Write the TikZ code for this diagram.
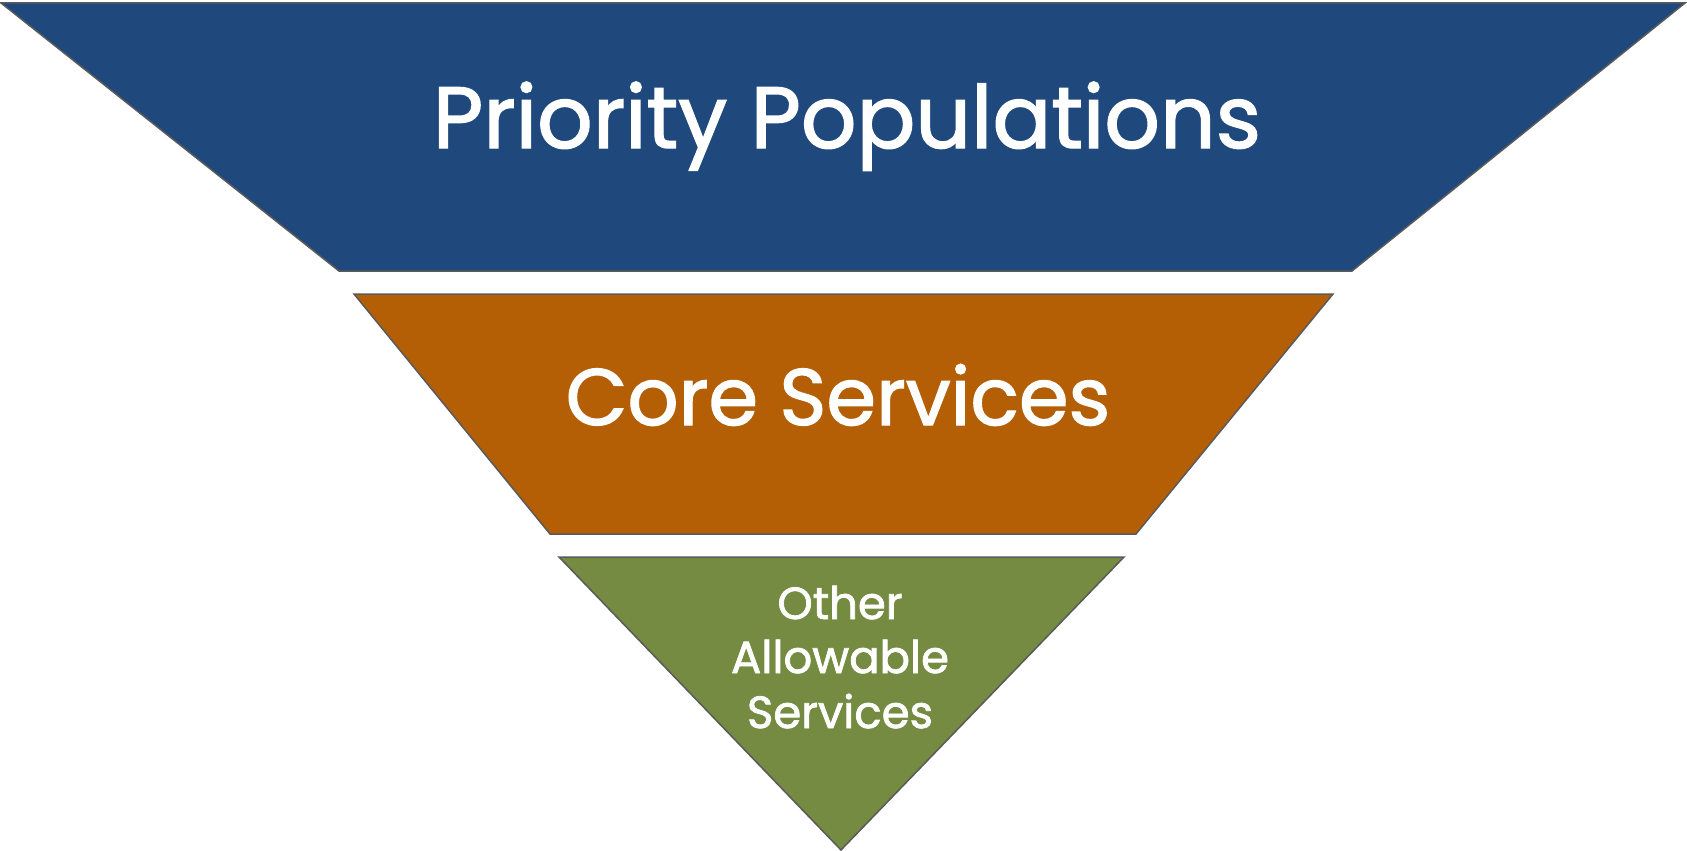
\documentclass[tikz,border=0pt]{standalone}
\usepackage{fontspec}
\setmainfont{Poppins}[FakeBold=1.6]
\definecolor{topblue}{HTML}{1F497D}
\definecolor{midorange}{HTML}{B45E06}
\definecolor{lowgreen}{HTML}{748B41}
\definecolor{edgegray}{HTML}{5A5A5A}
\begin{document}
\begin{tikzpicture}[x=1pt,y=-1pt,
  layer/.style={draw=edgegray,line width=1.5pt,line join=miter},
  label/.style={text=white,anchor=base,inner sep=0pt}]
\useasboundingbox (0,0) rectangle (1687,851);
\fill[white] (0,0) rectangle (1687,851);
\draw[layer,fill=topblue] (1,3) -- (1685,3) -- (1352,271) -- (339,271) -- cycle;
\draw[layer,fill=midorange] (354,294) -- (1333,294) -- (1136,534) -- (550,534) -- cycle;
\draw[layer,fill=lowgreen] (559,557) -- (1124,557) -- (841,850) -- cycle;
\node[label,font=\fontsize{87}{90}\selectfont] (pp) at (847,148) {Priority Populations};
\node[label,font=\fontsize{80}{84}\selectfont] (cs) at (838,425) {Core Services};
\node[label,font=\fontsize{45}{55}\selectfont] (o1) at (840,619) {Other};
\node[label,font=\fontsize{45}{55}\selectfont] (o2) at (840,673) {Allowable};
\node[label,font=\fontsize{45}{55}\selectfont] (o3) at (840,728) {Services};
\end{tikzpicture}
\end{document}
